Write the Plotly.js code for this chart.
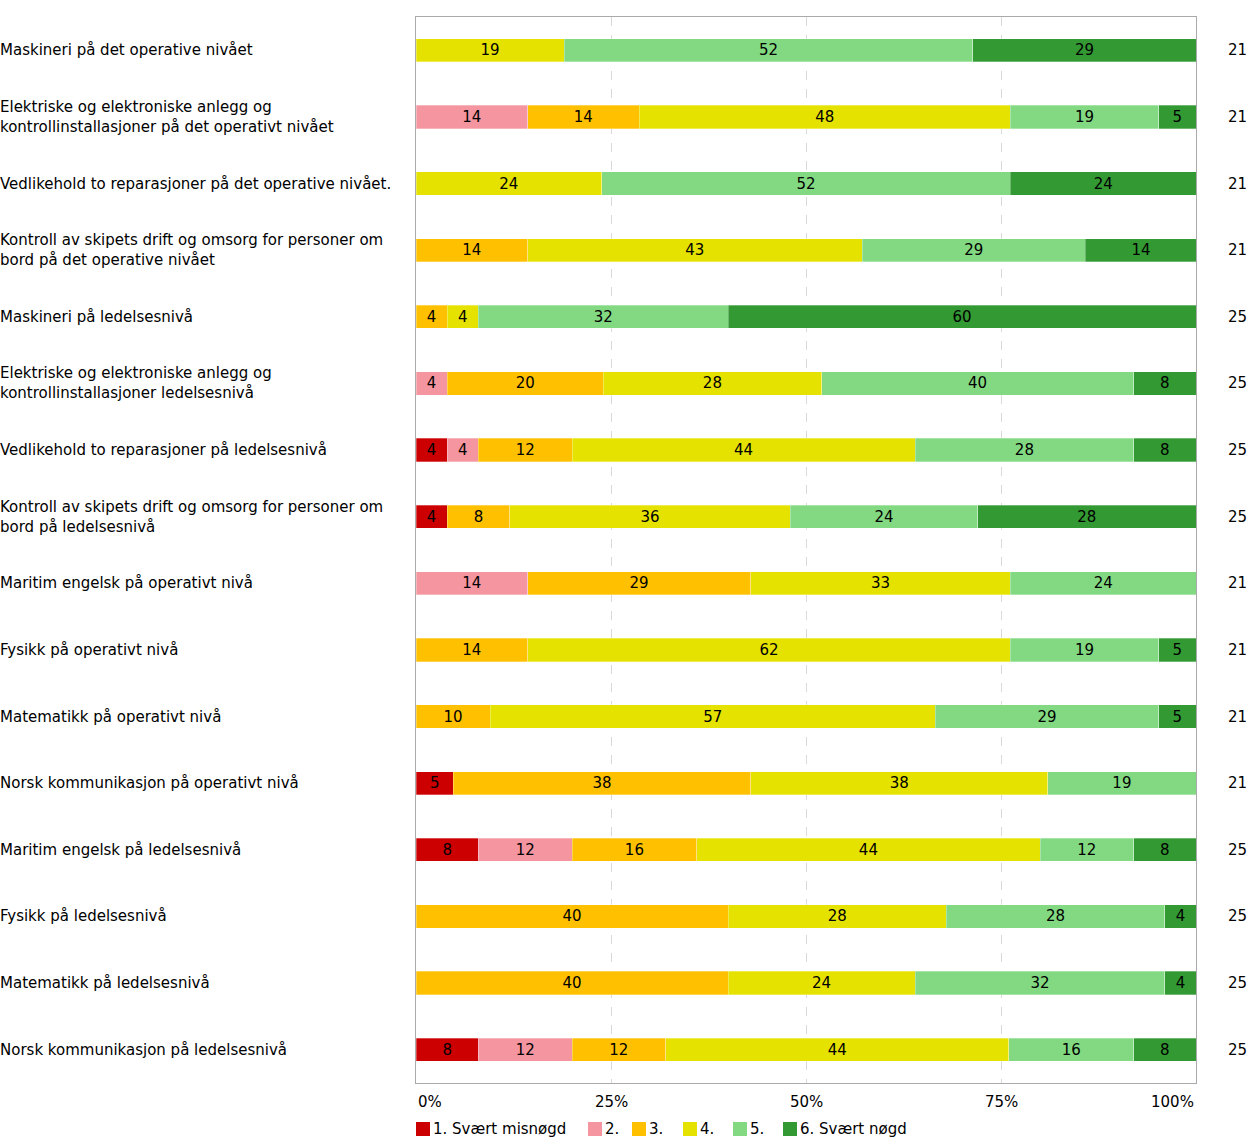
<!DOCTYPE html>
<html><head><meta charset="utf-8">
<script src="https://cdn.plot.ly/plotly-3.0.1.min.js"></script>
<style>body{margin:0;background:#fff}#chart{width:1259px;height:1144px}</style>
</head><body><div id="chart"></div>
<script>
const categories = [
 "Maskineri på det operative nivået",
 "Elektriske og elektroniske anlegg og<br>kontrollinstallasjoner på det operativt nivået",
 "Vedlikehold to reparasjoner på det operative nivået.",
 "Kontroll av skipets drift og omsorg for personer om<br>bord på det operative nivået",
 "Maskineri på ledelsesnivå",
 "Elektriske og elektroniske anlegg og<br>kontrollinstallasjoner ledelsesnivå",
 "Vedlikehold to reparasjoner på ledelsesnivå",
 "Kontroll av skipets drift og omsorg for personer om<br>bord på ledelsesnivå",
 "Maritim engelsk på operativt nivå",
 "Fysikk på operativt nivå",
 "Matematikk på operativt nivå",
 "Norsk kommunikasjon på operativt nivå",
 "Maritim engelsk på ledelsesnivå",
 "Fysikk på ledelsesnivå",
 "Matematikk på ledelsesnivå",
 "Norsk kommunikasjon på ledelsesnivå"
];
const counts = ["21","21","21","21","25","25","25","25","21","21","21","21","25","25","25","25"];
const seriesNames = ["1. Svært misnøgd","2.","3.","4.","5.","6. Svært nøgd"];
const seriesColors = ["#cc0000","#f4959f","#ffc000","#e6e200","#82d982","#339933"];
const s1 = [0,0,0,0,0,0,4,4,0,0,0,4.8,8,0,0,8];
const s2 = [0,14.3,0,0,0,4,4,0,14.3,0,0,0,12,0,0,12];
const s3 = [0,14.3,0,14.3,4,20,12,8,28.6,14.3,9.5,38.1,16,40,40,12];
const s4 = [19.0,47.6,23.8,42.9,4,28,44,36,33.3,61.9,57.1,38.1,44,28,24,44];
const s5 = [52.4,19.0,52.4,28.6,32,40,28,24,23.8,19.0,28.6,19.0,12,28,32,16];
const s6 = [28.6,4.8,23.8,14.3,60,8,8,28,0,4.8,4.8,0,8,4,4,8];
const tickVals = [0,25,50,75,100];
const tickText = ["0%","25%","50%","75%","100%"];

const FONT = "DejaVu Sans, Verdana, sans-serif";
const FS = 15;
const L = 416, PW = 780, PT = 17, PH = 1066, PB = PT + PH;
const px2x = p => (p - L) / PW;
const py2y = p => (PB - p) / PH;

const allSeries = [s1,s2,s3,s4,s5,s6];
const traces = allSeries.map((vals,i)=>({
  type:"bar", orientation:"h", name:seriesNames[i],
  y:categories, x:vals,
  marker:{color:seriesColors[i], line:{color:"rgba(255,255,255,0.6)", width:0.5}},
  text:vals.map(v=>v>0?String(Math.round(v)):""),
  textposition:"inside", insidetextanchor:"middle", textangle:0,
  textfont:{family:FONT,size:FS,color:"#000"},
  constraintext:"none",
  hoverinfo:"none", showlegend:false
}));

const annotations = [];
const shapes = [];
categories.forEach((c,i)=>{
  annotations.push({xref:"paper",yref:"y",x:px2x(-2),y:c,text:c,showarrow:false,
    xanchor:"left",align:"left",font:{family:FONT,size:FS,color:"#000"}});
  annotations.push({xref:"paper",yref:"y",x:px2x(1237),y:c,text:counts[i],showarrow:false,
    xanchor:"center",font:{family:FONT,size:FS,color:"#000"}});
});
tickVals.forEach((v,i)=>{
  annotations.push({xref:"x",yref:"paper",x:v,y:py2y(1102),text:tickText[i],showarrow:false,
    xanchor:i===0?"left":(i===tickVals.length-1?"right":"center"),yanchor:"middle",
    font:{family:FONT,size:FS,color:"#000"}});
});
// legend (custom layout so spacing matches)
const legendX = [416, 588, 632, 683, 733, 783];
seriesNames.forEach((n,i)=>{
  shapes.push({type:"rect",xref:"paper",yref:"paper",
    x0:px2x(legendX[i]),x1:px2x(legendX[i]+14),y0:py2y(1136),y1:py2y(1122),
    fillcolor:seriesColors[i],line:{width:0}});
  annotations.push({xref:"paper",yref:"paper",x:px2x(legendX[i]+15),y:py2y(1129),
    text:n,showarrow:false,xanchor:"left",yanchor:"middle",
    font:{family:FONT,size:FS,color:"#000"}});
});

const layout = {
  width:1259,height:1144,
  margin:{l:L,r:1259-L-PW,t:PT,b:1144-PB,autoexpand:false},
  barmode:"stack", bargap:0.65,
  paper_bgcolor:"#fff", plot_bgcolor:"#fff",
  font:{family:FONT,size:FS,color:"#000"},
  xaxis:{range:[0,100],tickvals:[25,50,75],showticklabels:false,showgrid:true,
    gridcolor:"#d9d9d9",griddash:"dash",gridwidth:1,zeroline:false,
    showline:true,mirror:true,linecolor:"#aaaaaa",linewidth:1,fixedrange:true},
  yaxis:{type:"category",autorange:"reversed",showticklabels:false,showgrid:false,
    showline:true,mirror:true,linecolor:"#aaaaaa",linewidth:1,zeroline:false},
  showlegend:false,
  annotations:annotations,
  shapes:shapes
};
Plotly.newPlot("chart",traces,layout,{displayModeBar:false,staticPlot:true});
</script></body></html>
